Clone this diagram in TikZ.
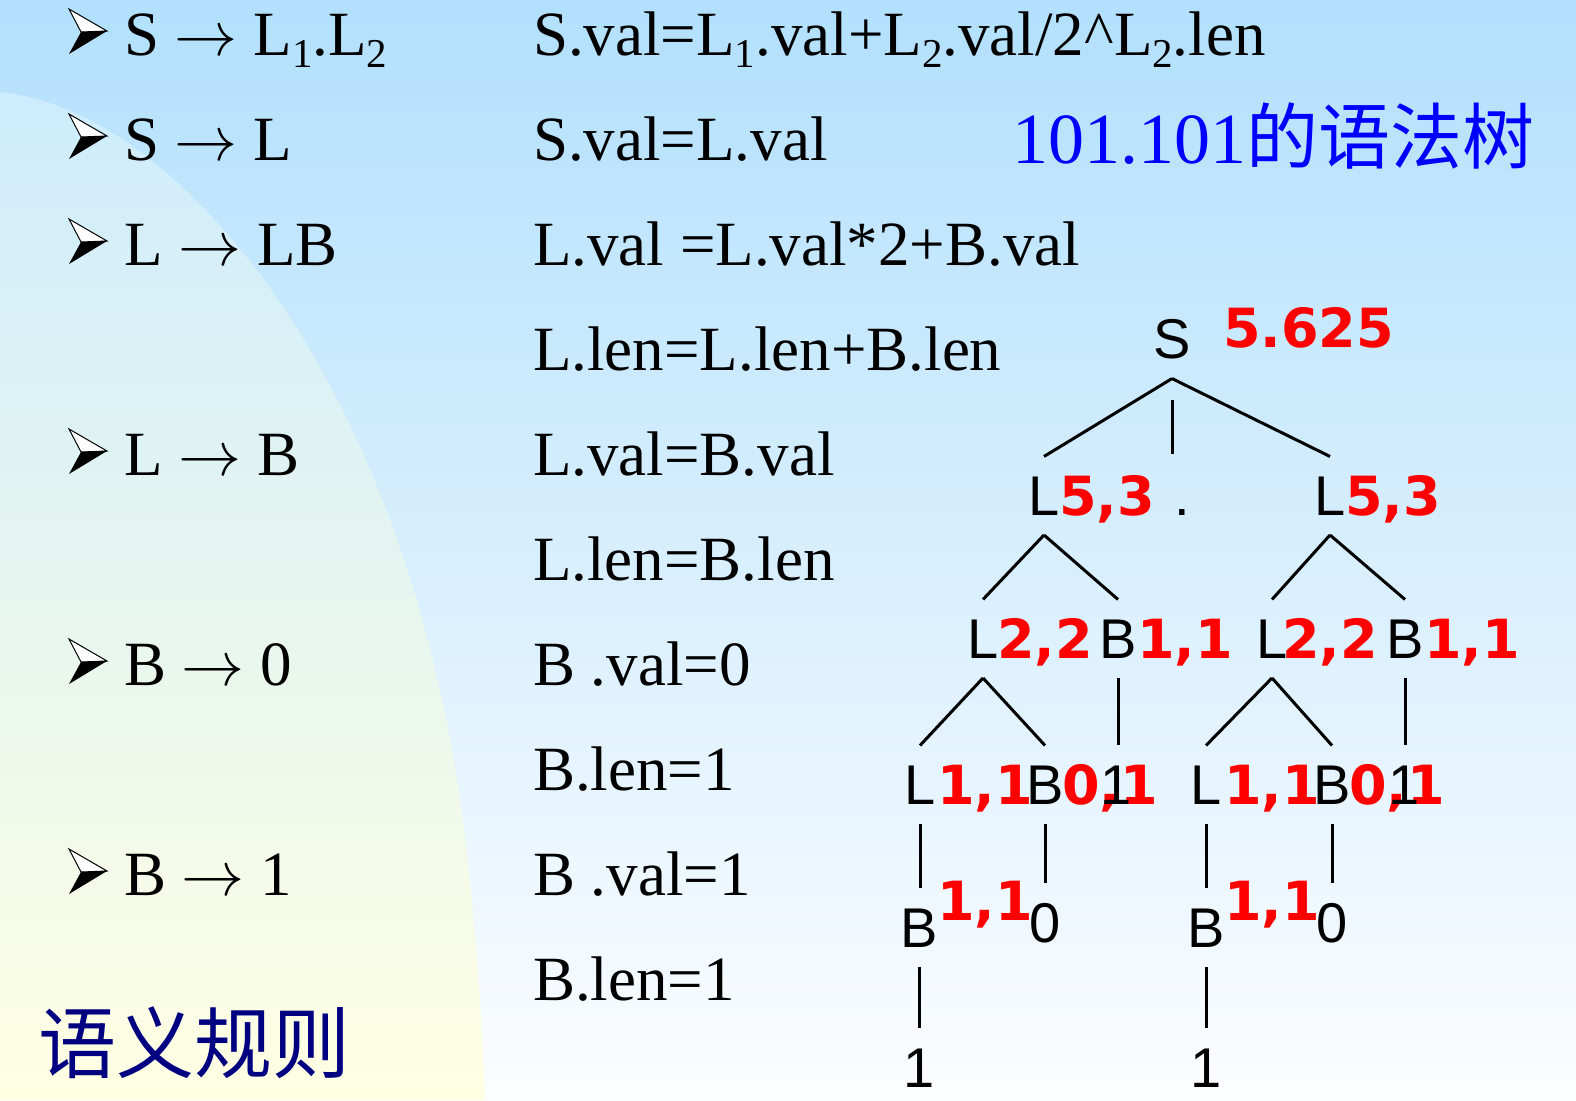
\RequirePackage{fix-cm}
\documentclass[tikz,border=0pt]{standalone}
\usepackage{fontspec}
\setmainfont{Liberation Serif}
\newfontfamily\treefont{Liberation Sans}
\newfontfamily\valfont{DejaVu Sans}
\newfontfamily\cjk{Noto Sans CJK SC}
\usetikzlibrary{positioning,calc}

\definecolor{skyTop}{RGB}{178,224,252}
\definecolor{skyBottom}{RGB}{252,253,255}
\definecolor{paneTop}{RGB}{206,236,253}
\definecolor{paneBottom}{RGB}{255,255,226}
\definecolor{titleBlue}{RGB}{0,0,255}
\definecolor{ruleNavy}{RGB}{0,0,128}

\newcommand{\lsub}[1]{\raisebox{-12pt}{\fontsize{41}{41}\selectfont #1}}
\newcommand{\prodto}{$\rightarrow$}

\tikzset{
     sym/.style={font=\treefont\fontsize{56}{56}\selectfont, inner sep=0pt,
                 outer xsep=0pt, outer ysep=20pt, anchor=base},
     val/.style={font=\valfont\bfseries\fontsize{54}{54}\selectfont, text=red,
                 inner sep=0pt, anchor=base west},
     rule/.style={font=\fontsize{63}{63}\selectfont, inner sep=0pt, anchor=base west},
     branch/.style={line width=3pt},
     bul/.pic={
          \filldraw[fill=white, line width=1pt] (0,-46) -- (38,-24) -- (12,-23) -- cycle;
          \fill (12,-23) -- (38,-24) -- (0,-1) -- cycle;
     }
     }

\begin{document}
\begin{tikzpicture}[x=1pt, y=-1pt]
                    \useasboundingbox (0,0) rectangle (1576,1100);
                    % Background
                    \shade[top color=skyTop, bottom color=skyBottom] (0,0) rectangle (1576,1100);
                    \shade[top color=paneTop, bottom color=paneBottom]
                        (0,92) .. controls (180,110) and (400,380) .. (460,800)
                        .. controls (474,900) and (481,1000) .. (485,1100) -- (0,1100) -- cycle;
                    % Syntax rules
                    \pic at (69,55) {bul};
                    \pic at (69,160) {bul};
                    \pic at (69,265) {bul};
                    \pic at (69,475) {bul};
                    \pic at (69,685) {bul};
                    \pic at (69,895) {bul};
                    \node[rule] (prodA) at (124,55) {S \prodto{} L\lsub{1}.L\lsub{2}};
                    \node[rule] (prodB) at (124,160) {S \prodto{} L};
                    \node[rule] (prodC) at (124,265) {L \prodto{} LB};
                    \node[rule] (prodD) at (124,475) {L \prodto{} B};
                    \node[rule] (prodE) at (124,685) {B \prodto{} 0};
                    \node[rule] (prodF) at (124,895) {B \prodto{} 1};
                    % Semantic rules
                    \node[rule] (semA) at (533,55) {S.val=L\lsub{1}.val+L\lsub{2}.val/2\textasciicircum L\lsub{2}.len};
                    \node[rule] (semB) at (533,160) {S.val=L.val};
                    \node[rule] (semC) at (533,265) {L.val =L.val*2+B.val};
                    \node[rule] (semD) at (533,370) {L.len=L.len+B.len};
                    \node[rule] (semE) at (533,475) {L.val=B.val};
                    \node[rule] (semF) at (533,580) {L.len=B.len};
                    \node[rule] (semG) at (533,685) {B .val=0};
                    \node[rule] (semH) at (533,790) {B.len=1};
                    \node[rule] (semI) at (533,895) {B .val=1};
                    \node[rule] (semJ) at (533,1000) {B.len=1};
                    \node[font=\cjk\fontsize{78}{78}\selectfont, text=ruleNavy, inner sep=0pt, anchor=base west]
                        (ruleTitle) at (38,1072) {语义规则};
                    \node[font=\fontsize{72}{72}\selectfont, text=titleBlue, inner sep=0pt, anchor=base west]
                        (treeTitle) at (1012,163) {101.101{\cjk 的语法树}};
                    % Attribute values
                    \node[val] (rootVal) at (1223,347) {5.625};
                    \node[val] (lAVal) at (1059,515) {5,3};
                    \node[val] (lBVal) at (1345,515) {5,3};
                    \node[val] (lAAVal) at (997,658) {2,2};
                    \node[val] (bABVal) at (1137,658) {1,1};
                    \node[val] (lBAVal) at (1282,658) {2,2};
                    \node[val] (bBBVal) at (1424,658) {1,1};
                    \node[val] (lAAAVal) at (937,804) {1,1};
                    \node[val] (bAABVal) at (1062,804) {0,1};
                    \node[val] (lBAAVal) at (1224,804) {1,1};
                    \node[val] (bBABVal) at (1349,804) {0,1};
                    \node[val] (bAAAAVal) at (937,920) {1,1};
                    \node[val] (bBAAAVal) at (1224,920) {1,1};
                    % Place nodes
                    \node[sym] (root) at (1172,358) {S};
                    \node[sym] (lA) at (1044,515) {L};
                    \node[sym] (dot) at (1182,515) {.};
                    \node[sym] (lB) at (1330,515) {L};
                    \node[sym] (lAA) at (983,658) {L};
                    \node[sym] (bAB) at (1118,658) {B};
                    \node[sym] (lBA) at (1272,658) {L};
                    \node[sym] (bBB) at (1405,658) {B};
                    \node[sym] (lAAA) at (920,804) {L};
                    \node[sym] (bAAB) at (1045,804) {B};
                    \node[sym] (oneAB) at (1116,804) {1};
                    \node[sym] (lBAA) at (1206,804) {L};
                    \node[sym] (bBAB) at (1332,804) {B};
                    \node[sym] (oneBB) at (1404,804) {1};
                    \node[sym] (bAAAA) at (919,947) {B};
                    \node[sym] (zeroAAB) at (1045,942) {0};
                    \node[sym] (bBAAA) at (1206,947) {B};
                    \node[sym] (zeroBAB) at (1332,942) {0};
                    \node[sym] (oneAAAA) at (919,1087) {1};
                    \node[sym] (oneBAAA) at (1206,1087) {1};
                    % Draw edges
                    \draw[branch] (root.south) -- (lA.north);
                    \draw[branch] (root.south) -- (lB.north);
                    \draw[branch, shorten <=21pt, shorten >=35pt] (root.south) -- (root.south |- dot.north);
                    \draw[branch] (lA.south) -- (lAA.north);
                    \draw[branch] (lA.south) -- (bAB.north);
                    \draw[branch] (lB.south) -- (lBA.north);
                    \draw[branch] (lB.south) -- (bBB.north);
                    \draw[branch] (lAA.south) -- (lAAA.north);
                    \draw[branch] (lAA.south) -- (bAAB.north);
                    \draw[branch] (bAB.south) -- (bAB.south |- oneAB.north);
                    \draw[branch] (lBA.south) -- (lBAA.north);
                    \draw[branch] (lBA.south) -- (bBAB.north);
                    \draw[branch] (bBB.south) -- (bBB.south |- oneBB.north);
                    \draw[branch] (lAAA.south) -- (lAAA.south |- bAAAA.north);
                    \draw[branch] (bAAB.south) -- (bAAB.south |- zeroAAB.north);
                    \draw[branch] (lBAA.south) -- (lBAA.south |- bBAAA.north);
                    \draw[branch] (bBAB.south) -- (bBAB.south |- zeroBAB.north);
                    \draw[branch] (bAAAA.south) -- (bAAAA.south |- oneAAAA.north);
                    \draw[branch] (bBAAA.south) -- (bBAAA.south |- oneBAAA.north);
                \end{tikzpicture}
\end{document}
